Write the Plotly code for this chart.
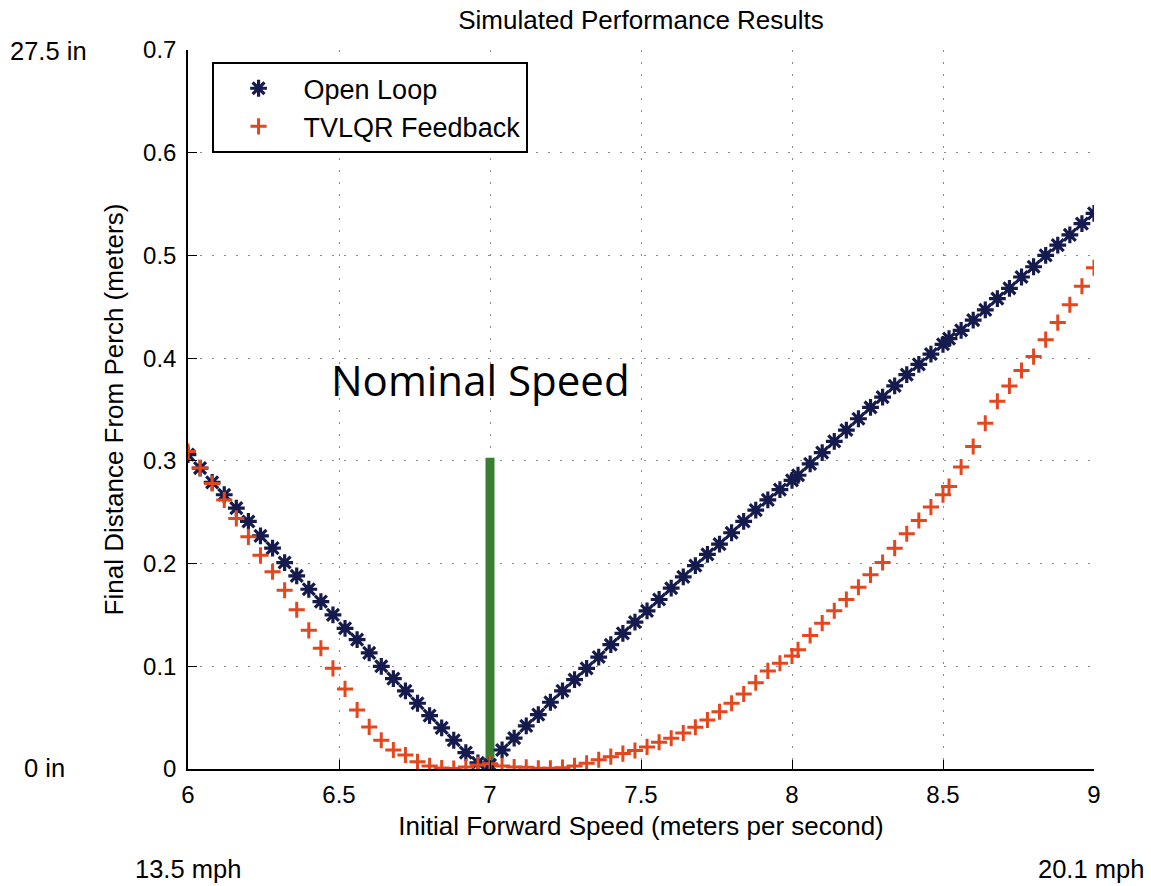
import plotly.graph_objects as go

# Initial forward speed samples (m/s)
speed = [
    6.00, 6.04, 6.08, 6.12, 6.16, 6.20, 6.24, 6.28, 6.32, 6.36,
    6.40, 6.44, 6.48, 6.52, 6.56, 6.60, 6.64, 6.68, 6.72, 6.76,
    6.80, 6.84, 6.88, 6.92, 6.96, 7.00, 7.04, 7.08, 7.12, 7.16,
    7.20, 7.24, 7.28, 7.32, 7.36, 7.40, 7.44, 7.48, 7.52, 7.56,
    7.60, 7.64, 7.68, 7.72, 7.76, 7.80, 7.84, 7.88, 7.92, 7.96,
    8.00, 8.02, 8.06, 8.10, 8.14, 8.18, 8.22, 8.26, 8.30, 8.34,
    8.38, 8.42, 8.46, 8.50, 8.52, 8.56, 8.60, 8.64, 8.68, 8.72,
    8.76, 8.80, 8.84, 8.88, 8.92, 8.96, 9.00,
]

# Final distance from perch (m), open-loop trajectory
open_loop = [
    0.306, 0.293, 0.279, 0.267, 0.254, 0.241, 0.227, 0.215, 0.201, 0.188,
    0.175, 0.163, 0.150, 0.137, 0.126, 0.113, 0.100, 0.088, 0.076, 0.064,
    0.052, 0.040, 0.028, 0.016, 0.006, 0.004, 0.0185, 0.030, 0.042, 0.053,
    0.065, 0.076, 0.087, 0.098, 0.109, 0.121, 0.132, 0.143, 0.154, 0.165,
    0.176, 0.187, 0.198, 0.209, 0.219, 0.230, 0.241, 0.252, 0.262, 0.272,
    0.281, 0.286, 0.297, 0.308, 0.319, 0.330, 0.341, 0.352, 0.362, 0.373,
    0.384, 0.394, 0.404, 0.4135, 0.419, 0.427, 0.437, 0.447, 0.458, 0.468,
    0.479, 0.489, 0.500, 0.510, 0.520, 0.531, 0.541,
]

# Final distance from perch (m), TVLQR feedback
tvlqr = [
    0.309, 0.293, 0.278, 0.262, 0.244, 0.226, 0.208, 0.192, 0.174, 0.155,
    0.135, 0.1175, 0.098, 0.078, 0.0575, 0.041, 0.028, 0.0185, 0.0136, 0.007,
    0.003, 0.001, 0.0005, 0.002, 0.004, 0.005, 0.003, 0.002, 0.0017, 0.0007,
    0.0007, 0.0013, 0.003, 0.0055, 0.009, 0.012, 0.015, 0.018, 0.0215, 0.026,
    0.030, 0.035, 0.0406, 0.0477, 0.0558, 0.064, 0.073, 0.084, 0.0955, 0.103,
    0.110, 0.116, 0.130, 0.142, 0.154, 0.165, 0.177, 0.189, 0.201, 0.215,
    0.229, 0.242, 0.255, 0.267, 0.275, 0.294, 0.314, 0.3366, 0.358, 0.373,
    0.388, 0.4015, 0.418, 0.4346, 0.452, 0.470, 0.488,
]

# Nominal speed marker
nominal_x = [7.0, 7.0]
nominal_y = [0.0, 0.303]

x_ticks = [6, 6.5, 7, 7.5, 8, 8.5, 9]
x_tick_text = ["6", "6.5", "7", "7.5", "8", "8.5", "9"]
y_ticks = [0, 0.1, 0.2, 0.3, 0.4, 0.5, 0.6, 0.7]
y_tick_text = ["0", "0.1", "0.2", "0.3", "0.4", "0.5", "0.6", "0.7"]

NAVY = "#161b4e"
ORANGE = "#e4461e"
GREEN = "#3a7f31"
FONT = "Liberation Sans, Arial, sans-serif"

fig = go.Figure()

fig.add_trace(go.Scatter(
    x=nominal_x, y=nominal_y, mode="lines",
    line=dict(color=GREEN, width=9), showlegend=False, hoverinfo="skip",
))

fig.add_trace(go.Scatter(
    x=speed, y=open_loop, mode="markers", name="Open Loop",
    marker=dict(symbol="asterisk-open", size=14, color=NAVY,
                line=dict(color=NAVY, width=3.2)),
))

fig.add_trace(go.Scatter(
    x=speed, y=tvlqr, mode="markers", name="TVLQR Feedback",
    marker=dict(symbol="cross-thin-open", size=11.5, color=ORANGE,
                line=dict(color=ORANGE, width=3)),
))

axis_common = dict(
    showline=True, linecolor="black", linewidth=1.5,
    ticks="inside", ticklen=9, tickwidth=1.2, tickcolor="black",
    showgrid=True, gridcolor="#8a8a8a", gridwidth=1, griddash="2px,10px",
    zeroline=False, mirror=False,
    tickfont=dict(family=FONT, size=24, color="black"),
)

fig.update_xaxes(
    range=[6, 9], tickvals=x_ticks, ticktext=x_tick_text,
    ticklabelstandoff=3,
    title=dict(text="Initial Forward Speed (meters per second)",
               font=dict(family=FONT, size=26, color="black"), standoff=10),
    **axis_common,
)
fig.update_yaxes(
    range=[0, 0.7], tickvals=y_ticks, ticktext=y_tick_text,
    ticklabelstandoff=5,
    title=dict(text="Final Distance From Perch (meters)",
               font=dict(family=FONT, size=26, color="black"), standoff=12),
    **axis_common,
)

fig.update_layout(
    width=1151, height=886,
    margin=dict(l=188, r=57, t=50, b=117),
    paper_bgcolor="white", plot_bgcolor="white",
    title=dict(text="Simulated Performance Results", x=641 / 1151,
               xanchor="center", y=1 - 20 / 886, yanchor="middle",
               font=dict(family=FONT, size=26, color="black")),
    legend=dict(
        x=0.026, y=0.983, xanchor="left", yanchor="top",
        bgcolor="white", bordercolor="black", borderwidth=2,
        font=dict(family=FONT, size=27, color="black"),
        itemwidth=80,
    ),
    showlegend=True,
)

side_labels = [
    ("27.5 in", 48, 51),
    ("0 in", 44, 768),
    ("13.5 mph", 188, 869),
    ("20.1 mph", 1091, 869),
]
for text, px, py in side_labels:
    fig.add_annotation(
        text=text, xref="paper", yref="paper",
        x=(px - 188) / 906, y=(769 - py) / 719,
        xanchor="center", yanchor="middle", showarrow=False,
        font=dict(family=FONT, size=25.5, color="black"),
    )

fig.add_annotation(
    text="Nominal Speed", x=6.97, y=0.379, xref="x", yref="y",
    xanchor="center", yanchor="middle", showarrow=False,
    font=dict(family="Open Sans, sans-serif", size=42, color="black"),
)

fig.write_html("out.html")
